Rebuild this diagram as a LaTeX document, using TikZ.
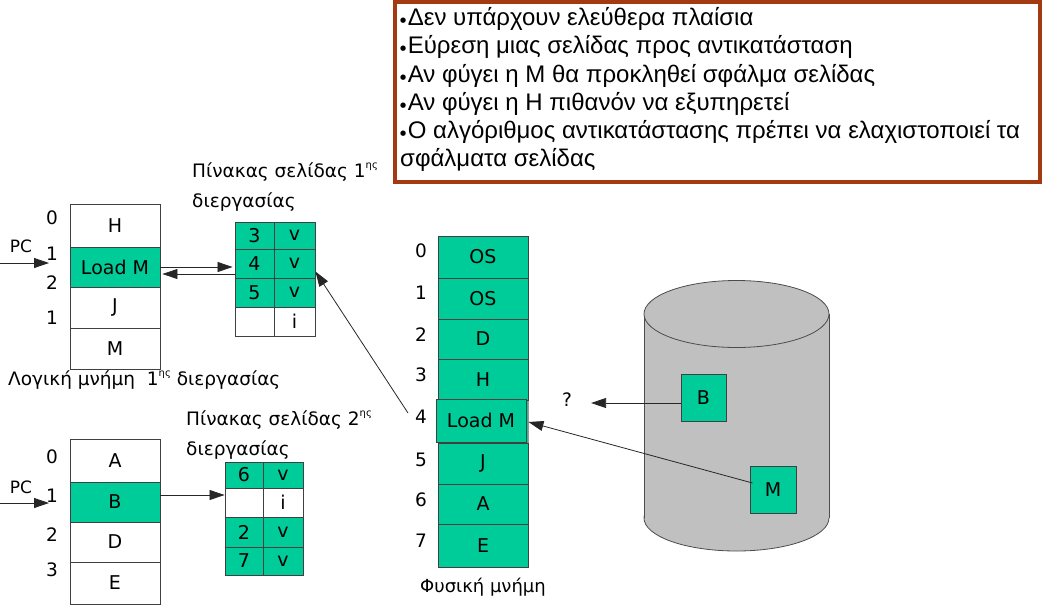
\documentclass[tikz,border=0pt]{standalone}
\usepackage{fontspec}
\setmainfont{DejaVu Sans}
\newfontfamily\boxfont{Liberation Sans}
\usetikzlibrary{arrows.meta}
\definecolor{cellgreen}{RGB}{0,204,153}
\definecolor{boxbrown}{RGB}{164,58,18}
\definecolor{diskgray}{RGB}{192,192,192}
\begin{document}
\begin{tikzpicture}[x=1pt,y=-1pt,
  cell/.style={draw=black!75, line width=0.9pt, inner sep=0pt, font=\fontsize{19}{19}\selectfont},
  gcell/.style={cell, fill=cellgreen},
  wcell/.style={cell, fill=white},
  lab/.style={inner sep=0pt, font=\fontsize{18.5}{18.5}\selectfont},
  glab/.style={inner sep=0pt, anchor=base west, font=\fontsize{18.5}{18.5}\selectfont},
  btxt/.style={inner sep=0pt, anchor=base west, font=\boxfont\fontsize{24}{24}\selectfont},
  arr/.style={draw=black!85, line width=0.8pt, -{Triangle[length=15pt,width=10pt]}},
]
\useasboundingbox (0,0) rectangle (1042,606);
\newcommand{\bul}{{\rmfamily\fontsize{7}{7}\selectfont\raisebox{0.75ex}{●}}\kern1.5pt}
\newcommand{\sups}[1]{\raisebox{0.85ex}{\fontsize{10}{10}\selectfont #1}}

% top text box
\node[draw=boxbrown, line width=4pt, fill=white, minimum width=645pt, minimum height=180pt, inner sep=0pt] (tbox) at (717.5,92) {};
\node[btxt] (t1) at (400,25) {\bul Δεν υπάρχουν ελεύθερα πλαίσια};
\node[btxt] (t2) at (400,53) {\bul Εύρεση μιας σελίδας προς αντικατάσταση};
\node[btxt] (t3) at (400,82) {\bul Αν φύγει η Μ θα προκληθεί σφάλμα σελίδας};
\node[btxt] (t4) at (400,110) {\bul Αν φύγει η Η πιθανόν να εξυπηρετεί};
\node[btxt] (t5) at (400,138) {\bul Ο αλγόριθμος αντικατάστασης πρέπει να ελαχιστοποιεί τα};
\node[btxt] (t6) at (400,166) {σφάλματα σελίδας};

% logical memory 1
\node[wcell, minimum width=90pt, minimum height=43pt] (l1a) at (115,225.5) {H};
\node[gcell, minimum width=90pt, minimum height=40pt] (l1b) at (115,267) {Load M};
\node[wcell, minimum width=90pt, minimum height=41pt] (l1c) at (115,307.5) {J};
\node[wcell, minimum width=90pt, minimum height=41pt] (l1d) at (115,348.5) {M};
\node[lab] (n1a) at (52,218) {0};
\node[lab] (n1b) at (52,254) {1};
\node[lab] (n1c) at (52,283) {2};
\node[lab] (n1d) at (52,318) {1};
\node[lab, font=\fontsize{17}{17}\selectfont] (pc1) at (21,246) {PC};
\coordinate (pc1s) at (0,263);
\coordinate (pc1e) at (49,263);
\draw[arr] (pc1s) -- (pc1e);
\node[glab] (lm1) at (8,385) {Λογική μνήμη\ \ 1\sups{ης} διεργασίας};

% page table 1
\node[glab] (pt1a) at (192,177) {Πίνακας σελίδας 1\sups{ης}};
\node[glab] (pt1b) at (192,207) {διεργασίας};
\node[gcell, minimum width=39pt, minimum height=27pt] (p1a) at (254.5,235.5) {3};
\node[gcell, minimum width=41pt, minimum height=27pt] (q1a) at (294.5,235.5) {v};
\node[gcell, minimum width=39pt, minimum height=29pt] (p1b) at (254.5,263.5) {4};
\node[gcell, minimum width=41pt, minimum height=29pt] (q1b) at (294.5,263.5) {v};
\node[gcell, minimum width=39pt, minimum height=29pt] (p1c) at (254.5,292.5) {5};
\node[gcell, minimum width=41pt, minimum height=29pt] (q1c) at (294.5,292.5) {v};
\node[wcell, minimum width=39pt, minimum height=29pt] (p1d) at (254.5,321.5) {};
\node[wcell, minimum width=41pt, minimum height=29pt] (q1d) at (294.5,321.5) {i};

\draw[arr, shorten >=2pt] (l1b.east) -- (l1b.east -| p1b.west);
\draw[arr, shorten >=2pt] ([yshift=-7pt]l1b.east -| p1b.west) -- ([yshift=-7pt]l1b.east);

% logical memory 2
\node[wcell, minimum width=90pt, minimum height=43pt] (l2a) at (115,460.5) {A};
\node[gcell, minimum width=90pt, minimum height=40pt] (l2b) at (115,502) {B};
\node[wcell, minimum width=90pt, minimum height=40pt] (l2c) at (115,542) {D};
\node[wcell, minimum width=90pt, minimum height=42pt] (l2d) at (115,583) {E};
\node[lab] (n2a) at (52,457) {0};
\node[lab] (n2b) at (52,496) {1};
\node[lab] (n2c) at (52,535) {2};
\node[lab] (n2d) at (52,570) {3};
\node[lab, font=\fontsize{17}{17}\selectfont] (pc2) at (21,487) {PC};
\coordinate (pc2s) at (0,503);
\coordinate (pc2e) at (49,503);
\draw[arr] (pc2s) -- (pc2e);

% page table 2
\node[glab] (pt2a) at (186,425) {Πίνακας σελίδας 2\sups{ης}};
\node[glab] (pt2b) at (186,455) {διεργασίας};
\node[gcell, minimum width=38pt, minimum height=26pt] (p2a) at (244,475) {6};
\node[gcell, minimum width=40pt, minimum height=26pt] (q2a) at (283,475) {v};
\node[wcell, minimum width=38pt, minimum height=29pt] (p2b) at (244,502.5) {};
\node[wcell, minimum width=40pt, minimum height=29pt] (q2b) at (283,502.5) {i};
\node[gcell, minimum width=38pt, minimum height=30pt] (p2c) at (244,532) {2};
\node[gcell, minimum width=40pt, minimum height=30pt] (q2c) at (283,532) {v};
\node[gcell, minimum width=38pt, minimum height=28pt] (p2d) at (244,561) {7};
\node[gcell, minimum width=40pt, minimum height=28pt] (q2d) at (283,561) {v};
\draw[arr] ([yshift=7pt]l2b.east) -- ([yshift=7pt]l2b.east -| p2b.west);

% physical memory
\node[gcell, draw=black!40, minimum width=90pt, minimum height=44pt] (pbg) at (483,421) {};
\node[gcell, minimum width=90pt, minimum height=42pt] (m0) at (483,257) {OS};
\node[gcell, minimum width=90pt, minimum height=41pt] (m1) at (483,298.5) {OS};
\node[gcell, minimum width=90pt, minimum height=40pt] (m2) at (483,339) {D};
\node[gcell, minimum width=90pt, minimum height=41pt] (m3) at (483,379.5) {H};
\node[gcell, minimum width=90pt, minimum height=43pt] (m4) at (481,420.5) {Load M};
\node[gcell, minimum width=90pt, minimum height=41pt] (m5) at (483,463.5) {J};
\node[gcell, minimum width=90pt, minimum height=40pt] (m6) at (483,504) {A};
\node[gcell, minimum width=90pt, minimum height=43pt] (m7) at (483,545.5) {E};
\node[lab] (k0) at (421,251) {0};
\node[lab] (k1) at (421,293) {1};
\node[lab] (k2) at (421,335) {2};
\node[lab] (k3) at (421,375) {3};
\node[lab] (k4) at (421,417) {4};
\node[lab] (k5) at (421,460) {5};
\node[lab] (k6) at (421,500) {6};
\node[lab] (k7) at (421,541) {7};
\node[glab, font=\fontsize{18}{18}\selectfont] (fm) at (420,592) {Φυσική μνήμη};

% disk
\fill[diskgray, draw=black!70, line width=0.8pt] (736.5,518) ellipse [x radius=92.5pt, y radius=33pt];
\fill[diskgray] (644,314) rectangle (829,518);
\draw[black!70, line width=0.8pt] (644,314) -- (644,518) (829,314) -- (829,518);
\filldraw[fill=diskgray, draw=black!70, line width=0.8pt] (736.5,314) ellipse [x radius=92.5pt, y radius=33.5pt];
\node[gcell, minimum width=45pt, minimum height=47pt] (dB) at (703.5,397.5) {B};
\node[gcell, minimum width=46pt, minimum height=47pt] (dM) at (773,489.5) {M};
\node[lab] (qm) at (567,400) {?};

\draw[arr, shorten >=19pt] ([yshift=-5.5pt]dB.west) -- ([yshift=-5.5pt]dB.west -| qm.east);
\draw[arr] ([yshift=6.5pt,xshift=3pt]dM.west) -- ([xshift=2pt,yshift=-1.5pt]m4.east);
\coordinate (mstart) at (408,413);
\draw[arr] (mstart) -- ([yshift=-8pt]q1b.east);
\end{tikzpicture}
\end{document}
